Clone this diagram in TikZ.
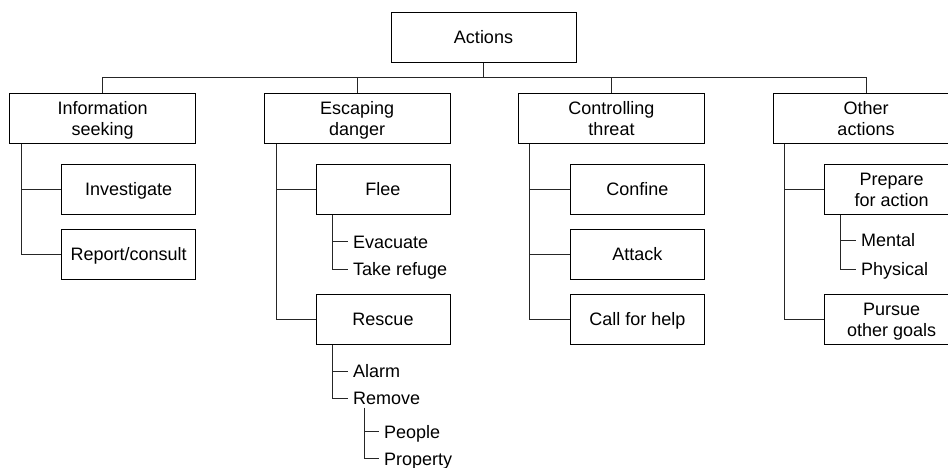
\documentclass[tikz,border=0pt]{standalone}
\usepackage{fontspec}
\setmainfont{Liberation Sans}
% two centred lines; baseline on the first line, depth reaches the second baseline
\newcommand\twoline[2]{\vtop{\baselineskip=21pt\halign{\hfil##\hfil\cr#1\cr#2\cr}}}

\begin{document}
\begin{tikzpicture}[x=1pt,y=-1pt,
  every node/.style={font=\fontsize{18}{21}\selectfont, inner sep=0pt},
  box/.style={draw=black, line width=1pt, fill=white, rectangle,
    text height=12.9pt, text depth=0pt},
  topbox/.style={box, minimum width=185pt, minimum height=50pt},
  catbox/.style={box, minimum width=186pt, minimum height=50pt, text depth=21pt},
  itembox/.style={box, minimum width=134pt, minimum height=50pt},
  twobox/.style={itembox, text depth=21pt},
  leaf/.style={anchor=west, inner xsep=5pt, inner ysep=3pt,
    text height=12.9pt, text depth=0pt},
  link/.style={draw=black!85, line width=0.9pt},
]
\useasboundingbox (0,0) rectangle (948,467);
\clip (0,0) rectangle (948,467);

% root and the four categories
\node[topbox] (actions) at (483.5,37.3) {Actions};
\node[catbox] (info)    at (102.7,118.7) {\twoline{Information}{seeking}};
\node[catbox] (escape)  at (357.2,118.7) {\twoline{Escaping}{danger}};
\node[catbox] (control) at (611.5,118.7) {\twoline{Controlling}{threat}};
\node[catbox] (other)   at (866,118.7)   {\twoline{Other}{actions}};

% second level
\node[itembox] (investigate) at (128.7,189.2) {Investigate};
\node[itembox] (report)      at (128.7,254.3) {Report/consult};
\node[itembox] (flee)        at (383,189.2)   {Flee};
\node[itembox] (rescue)      at (383,319.5)   {Rescue};
\node[itembox] (confine)     at (637.3,189.2) {Confine};
\node[itembox] (attack)      at (637.3,254.3) {Attack};
\node[itembox] (callhelp)    at (637.3,319.3) {Call for help};
\node[twobox]  (prepare)     at (891.7,189.2) {\twoline{Prepare}{for action}};
\node[twobox]  (pursue)      at (891.7,319.3) {\twoline{Pursue}{other goals}};

% plain-text leaves
\node[leaf] (evacuate) at (348,241.7) {Evacuate};
\node[leaf] (refuge)   at (348,269)   {Take refuge};
\node[leaf] (alarm)    at (348,371)   {Alarm};
\node[leaf] (remove)   at (348,398)   {Remove};
\node[leaf] (people)   at (379,431.7) {People};
\node[leaf] (property) at (379,458.7) {Property};
\node[leaf] (mental)   at (856,240)   {Mental};
\node[leaf] (physical) at (856,269)   {Physical};

% bus under the root
\coordinate (bus) at (0,77.7);
\draw[link] (info.north) |- (other.north |- bus) -- (other.north);
\foreach \n in {actions.south, escape.north, control.north}
  \draw[link] (\n) -- (\n |- bus);

% trunks of the categories
\coordinate (infotrunk)    at ([xshift=12.3pt]info.south west);
\coordinate (escapetrunk)  at ([xshift=12.4pt]escape.south west);
\coordinate (controltrunk) at ([xshift=11pt]control.south west);
\coordinate (othertrunk)   at ([xshift=12.3pt]other.south west);

\draw[link] (infotrunk) |- (report.west);
\draw[link] (infotrunk |- investigate.west) -- (investigate.west);

\draw[link] (escapetrunk) |- (rescue.west);
\draw[link] (escapetrunk |- flee.west) -- (flee.west);

\draw[link] (controltrunk) |- (callhelp.west);
\draw[link] (controltrunk |- confine.west) -- (confine.west);
\draw[link] (controltrunk |- attack.west) -- (attack.west);

\draw[link] (othertrunk) |- (pursue.west);
\draw[link] (othertrunk |- prepare.west) -- (prepare.west);

% sub-trunks to the leaves
\coordinate (fleetrunk)    at ([xshift=17.3pt]flee.south west);
\coordinate (rescuetrunk)  at ([xshift=17.3pt]rescue.south west);
\coordinate (removetrunk)  at ([xshift=16.3pt]remove.south west);
\coordinate (preparetrunk) at ([xshift=16.6pt]prepare.south west);

\draw[link] (fleetrunk) |- (refuge.west);
\draw[link] (fleetrunk |- evacuate.west) -- (evacuate.west);

\draw[link] (rescuetrunk) |- (remove.west);
\draw[link] (rescuetrunk |- alarm.west) -- (alarm.west);

\draw[link] (removetrunk) |- (property.west);
\draw[link] (removetrunk |- people.west) -- (people.west);

\draw[link] (preparetrunk) |- (physical.west);
\draw[link] (preparetrunk |- mental.west) -- (mental.west);
\end{tikzpicture}
\end{document}
